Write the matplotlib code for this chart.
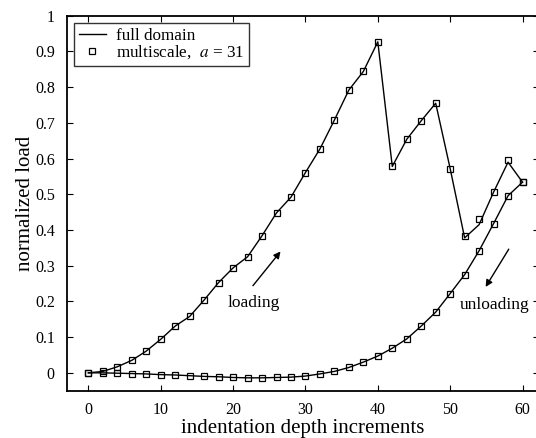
import numpy as np
import matplotlib.pyplot as plt

plt.rcParams['font.family'] = ['Liberation Serif', 'DejaVu Serif']
plt.rcParams['mathtext.fontset'] = 'stix'

# loading branch, increments 0..60 step 2
load_x = list(range(0, 62, 2))
load_ms = [0.0, 0.004, 0.017, 0.035, 0.061, 0.094, 0.131, 0.158, 0.204, 0.253,
           0.294, 0.325, 0.384, 0.448, 0.492, 0.561, 0.627, 0.708, 0.792, 0.844,
           0.927, 0.578, 0.654, 0.706, 0.755, 0.572, 0.384, 0.431, 0.506, 0.596,
           0.534]
load_full = [0.0, 0.004, 0.017, 0.035, 0.061, 0.094, 0.131, 0.158, 0.204, 0.253,
             0.294, 0.325, 0.384, 0.448, 0.492, 0.561, 0.627, 0.708, 0.792, 0.844,
             0.927, 0.578, 0.654, 0.706, 0.755, 0.572, 0.378, 0.415, 0.506, 0.590,
             0.534]

# unloading branch, increments 60..0 step 2
unload_x = list(range(60, -2, -2))
unload_ms = [0.534, 0.496, 0.418, 0.342, 0.275, 0.222, 0.170, 0.131, 0.095, 0.069,
             0.047, 0.030, 0.015, 0.004, -0.003, -0.009, -0.012, -0.013, -0.014, -0.014,
             -0.013, -0.011, -0.010, -0.008, -0.006, -0.005, -0.003, -0.002, -0.001, 0.0,
             0.0]

fig = plt.figure(figsize=(5.36, 4.38), dpi=100)
# right spine sits just past the image edge, as in the cropped original
ax = fig.add_axes([0.1244, 0.108, 0.8815, 0.856])

ax.plot(load_x, load_full, color='black', lw=1.0, label='full domain')
ax.plot(unload_x, unload_ms, color='black', lw=1.0)
ax.plot(load_x, load_ms, ls='none', marker='s', ms=5, mfc='none', mec='black', mew=0.9,
        label=r'multiscale,  $a$ = 31')
ax.plot(unload_x, unload_ms, ls='none', marker='s', ms=5, mfc='none', mec='black', mew=0.9)

ax.annotate('', xy=(26.8, 0.346), xytext=(22.5, 0.238),
            arrowprops=dict(arrowstyle='-|>', color='black', lw=1.0, mutation_scale=10))
ax.text(22.8, 0.195, 'loading', ha='center', va='center', fontsize=12.5)
ax.annotate('', xy=(54.7, 0.234), xytext=(58.3, 0.353),
            arrowprops=dict(arrowstyle='-|>', color='black', lw=1.0, mutation_scale=10))
ax.text(56.2, 0.19, 'unloading', ha='center', va='center', fontsize=12.5)

ax.set_xlim(-3, 62.3)
ax.set_ylim(-0.05, 1.0)
ax.set_xticks([0, 10, 20, 30, 40, 50, 60])
ax.set_yticks([0, 0.1, 0.2, 0.3, 0.4, 0.5, 0.6, 0.7, 0.8, 0.9, 1])
ax.set_yticklabels(['0', '0.1', '0.2', '0.3', '0.4', '0.5', '0.6', '0.7', '0.8', '0.9', '1'])
ax.tick_params(direction='in', top=True, right=True, labelsize=11.5, length=4, width=0.8)
ax.tick_params(axis='y', pad=8.5)
ax.tick_params(axis='x', pad=8)
for s in ax.spines.values():
    s.set_linewidth(1.3)

ax.set_xlabel('indentation depth increments', fontsize=15, labelpad=1)
ax.set_ylabel('normalized load', fontsize=15, labelpad=0)

leg = ax.legend(loc='upper left', fontsize=12.3, frameon=True, fancybox=False,
                edgecolor='black', borderpad=0.25, handlelength=1.6, handletextpad=0.6,
                labelspacing=0.0, borderaxespad=0.45)
leg.get_frame().set_linewidth(1.0)

fig.savefig('out.png', dpi=100)
